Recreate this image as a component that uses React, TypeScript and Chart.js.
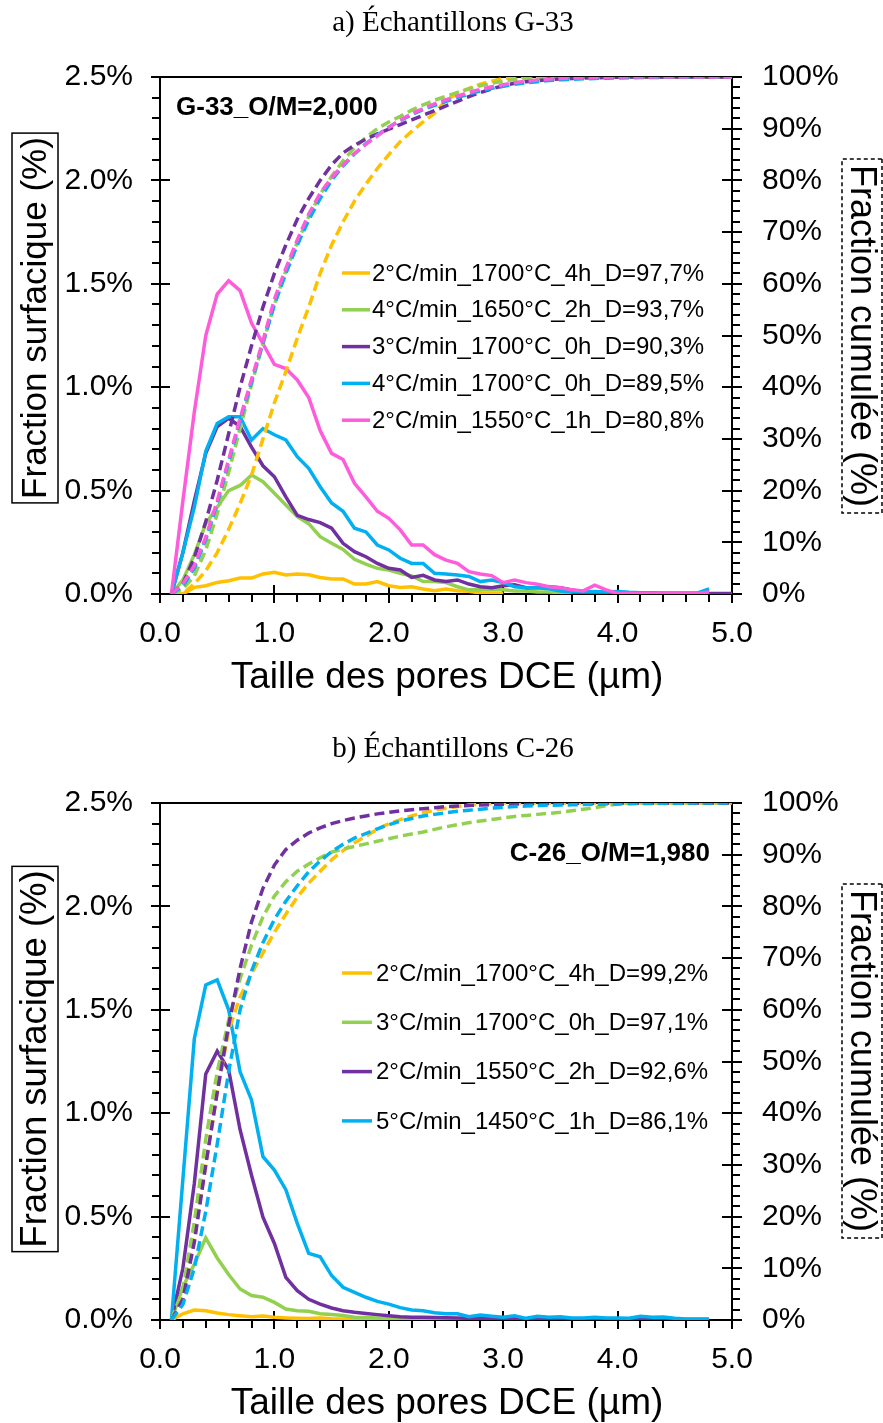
import React, { useEffect, useRef } from 'react';
import { Chart, registerables } from 'chart.js';

Chart.register(...registerables);

// ---------- DATA ----------
const poreSizes = [
  0.1, 0.2, 0.3, 0.4, 0.5, 0.6, 0.7, 0.8, 0.9, 1.0,
  1.1, 1.2, 1.3, 1.4, 1.5, 1.6, 1.7, 1.8, 1.9, 2.0,
  2.1, 2.2, 2.3, 2.4, 2.5, 2.6, 2.7, 2.8, 2.9, 3.0,
  3.1, 3.2, 3.3, 3.4, 3.5, 3.6, 3.7, 3.8, 3.9, 4.0,
  4.1, 4.2, 4.3, 4.4, 4.5, 4.6, 4.7, 4.8, 4.9, 5.0,
];

const xTicksLabels = ['0.0', '1.0', '2.0', '3.0', '4.0', '5.0'];

// Chart a) G-33 — fraction surfacique (%)
const aOrangeSurf = [0, 0, 0.032, 0.04, 0.056, 0.064, 0.077, 0.077, 0.097, 0.105, 0.092, 0.097, 0.093, 0.08, 0.073, 0.073, 0.048, 0.048, 0.06, 0.04, 0.032, 0.035, 0.024, 0.016, 0.024, 0.016, 0.013, 0.005, 0.004, 0.003, null, null, null, null, null, null, null, null, null, null, null, null, null, null, null, null, null, null, null, null];
const aGreenSurf = [0, 0.068, 0.19, 0.34, 0.42, 0.5, 0.525, 0.575, 0.543, 0.487, 0.43, 0.374, 0.34, 0.277, 0.245, 0.216, 0.168, 0.144, 0.124, 0.116, 0.1, 0.087, 0.06, 0.06, 0.055, 0.035, 0.02, 0.022, 0.02, 0.02, 0.015, 0.015, 0.01, 0.01, 0.005, 0.002, null, null, null, null, null, null, null, null, null, null, null, null, null, null];
const aPurpleSurf = [0, 0.2, 0.45, 0.68, 0.81, 0.85, 0.81, 0.71, 0.62, 0.567, 0.47, 0.38, 0.36, 0.345, 0.318, 0.245, 0.205, 0.18, 0.148, 0.124, 0.116, 0.08, 0.09, 0.068, 0.06, 0.068, 0.048, 0.035, 0.03, 0.04, 0.045, 0.03, 0.03, 0.035, 0.03, 0.02, 0.01, 0.008, 0.005, 0.005, 0.004, 0.004, 0.003, 0.003, 0.003, 0.003, 0.002, 0.002, 0.002, 0.002];
const aBlueSurf = [0, 0.2, 0.42, 0.69, 0.825, 0.857, 0.857, 0.745, 0.8, 0.77, 0.745, 0.664, 0.608, 0.519, 0.44, 0.4, 0.318, 0.3, 0.237, 0.213, 0.173, 0.148, 0.148, 0.1, 0.097, 0.092, 0.085, 0.06, 0.068, 0.055, 0.035, 0.03, 0.03, 0.025, 0.015, 0.01, 0.01, 0.012, 0.01, 0.012, 0.008, 0.006, 0.006, 0.005, 0.005, 0.005, 0.005, 0.025, null, null];
const aPinkSurf = [0, 0.45, 0.88, 1.25, 1.45, 1.515, 1.467, 1.31, 1.21, 1.11, 1.09, 1.035, 0.95, 0.79, 0.68, 0.65, 0.535, 0.47, 0.4, 0.366, 0.31, 0.237, 0.237, 0.19, 0.164, 0.148, 0.108, 0.097, 0.089, 0.055, 0.068, 0.055, 0.047, 0.035, 0.03, 0.02, 0.015, 0.043, 0.02, 0.003, 0.003, 0.003, 0.003, 0.003, 0.003, 0.005, 0.003, 0.01, null, null];

// Chart a) G-33 — fraction cumulée (%)
const aOrangeCum = [0, 0, 2, 4.5, 8, 12.5, 17.5, 23, 30, 37, 43, 49.5, 55.5, 62, 67.5, 72, 76, 79.3, 82.3, 85, 87.5, 89.5, 91.3, 93, 95.5, 96.8, 97.8, 98.6, 99.2, 99.7, 100, 100, 100, 100, 100, 100, 100, 100, 100, 100, 100, 100, 100, 100, 100, 100, 100, 100, 100, 100];
const aGreenCum = [0, 1, 3.5, 8.5, 15.5, 23.5, 32, 40.5, 48.5, 56, 62.5, 68, 73, 77.3, 80.8, 83.8, 86.3, 88.3, 90, 91.3, 92.4, 93.6, 94.6, 95.5, 96.3, 97, 97.7, 98.3, 98.8, 99.2, 99.5, 99.7, 99.8, 99.9, 100, 100, 100, 100, 100, 100, 100, 100, 100, 100, 100, 100, 100, 100, 100, 100];
const aPurpleCum = [0, 2, 7, 14, 22, 31, 40, 48, 55.5, 62, 67.5, 72.5, 76.5, 80, 83, 85.3, 86.8, 88, 89, 89.9, 90.8, 91.7, 92.6, 93.5, 94.4, 95.3, 96.2, 97, 97.7, 98.3, 98.8, 99.1, 99.3, 99.5, 99.6, 99.7, 99.8, 99.85, 99.9, 99.95, 100, 100, 100, 100, 100, 100, 100, 100, 100, 100];
const aBlueCum = [0, 1.5, 5, 10.5, 17.5, 25.5, 33.5, 41, 48.5, 56, 62, 67.5, 72.3, 76.5, 80, 82.8, 85.1, 87.1, 88.8, 90.3, 91.6, 92.7, 93.7, 94.5, 95.3, 96, 96.7, 97.3, 97.8, 98.2, 98.6, 98.9, 99.1, 99.3, 99.45, 99.55, 99.65, 99.72, 99.78, 99.82, 99.86, 99.89, 99.91, 99.93, 99.95, 99.96, 99.97, 100, 100, 100];
const aPinkCum = [0, 2, 5.5, 11, 18, 26, 34, 41.5, 49, 57, 63, 68.5, 73.5, 77.5, 80.5, 83, 85.2, 87, 88.6, 90.2, 91.7, 92.9, 93.9, 94.8, 95.6, 96.3, 97, 97.6, 98.1, 98.5, 98.9, 99.2, 99.4, 99.6, 99.7, 99.8, 99.85, 99.9, 99.95, 100, 100, 100, 100, 100, 100, 100, 100, 100, 100, 100];

// Chart b) C-26 — fraction surfacique (%)
const bOrangeSurf = [0, 0.03, 0.048, 0.045, 0.034, 0.026, 0.021, 0.016, 0.019, 0.013, 0.01, 0.008, 0.007, 0.01, 0.006, 0.005, 0.005, 0.004, 0.004, 0.004, 0.003, 0.003, 0.003, 0.003, 0.003, 0.002, 0.002, 0.002, 0.002, 0.002, null, null, null, null, null, null, null, null, null, null, null, null, null, null, null, null, null, null, null, null];
const bGreenSurf = [0, 0.16, 0.27, 0.397, 0.3, 0.22, 0.15, 0.118, 0.11, 0.085, 0.053, 0.045, 0.042, 0.03, 0.027, 0.022, 0.013, 0.012, 0.01, 0.01, 0.009, 0.008, 0.008, 0.007, 0.006, 0.006, 0.005, 0.005, 0.005, 0.004, 0.004, 0.003, 0.003, 0.003, 0.003, 0.003, 0.002, 0.01, 0.003, 0.002, null, null, null, null, null, null, null, null, null, null];
const bPurpleSurf = [0, 0.25, 0.66, 1.19, 1.3, 1.21, 0.92, 0.7, 0.497, 0.37, 0.206, 0.142, 0.1, 0.077, 0.058, 0.045, 0.037, 0.032, 0.026, 0.021, 0.016, 0.013, 0.013, 0.012, 0.011, 0.01, 0.008, 0.007, 0.006, 0.006, 0.01, 0.005, 0.004, 0.004, 0.003, 0.003, 0.003, 0.003, 0.002, 0.002, 0.002, 0.002, 0.002, 0.002, 0.002, 0.002, 0.002, 0.002, null, null];
const bBlueSurf = [0, 0.68, 1.36, 1.62, 1.645, 1.5, 1.2, 1.064, 0.79, 0.725, 0.63, 0.467, 0.322, 0.306, 0.215, 0.158, 0.134, 0.11, 0.09, 0.077, 0.06, 0.048, 0.045, 0.035, 0.03, 0.03, 0.016, 0.024, 0.018, 0.013, 0.02, 0.008, 0.018, 0.013, 0.016, 0.01, 0.01, 0.013, 0.01, 0.01, 0.008, 0.018, 0.013, 0.015, 0.008, 0.005, 0.005, 0.005, null, null];

// Chart b) C-26 — fraction cumulée (%)
const bOrangeCum = [0, 5, 16, 30, 44, 56, 62.5, 67, 71, 75, 78.5, 81.8, 84.5, 86.8, 89, 90.8, 92.3, 93.6, 94.9, 96, 96.8, 97.5, 98.1, 98.6, 99, 99.3, 99.6, 99.8, 99.9, 100, 100, 100, 100, 100, 100, 100, 100, 100, 100, 100, 100, 100, 100, 100, 100, 100, 100, 100, 100, 100];
const bGreenCum = [0, 6, 19, 35, 48, 58, 66, 72.5, 78, 82, 84.8, 86.8, 88.2, 89.4, 90.5, 91.1, 91.6, 92.1, 92.6, 93.1, 93.6, 94, 94.4, 94.9, 95.4, 95.8, 96.2, 96.5, 96.8, 97.1, 97.4, 97.6, 97.8, 98, 98.2, 98.5, 98.8, 99.1, 99.5, 99.8, 100, 100, 100, 100, 100, 100, 100, 100, 100, 100];
const bPurpleCum = [0, 4, 15, 30, 44, 57, 68, 77, 83.5, 88, 91, 92.8, 94.2, 95.2, 96, 96.6, 97.1, 97.5, 97.9, 98.2, 98.5, 98.7, 98.9, 99.1, 99.3, 99.4, 99.5, 99.6, 99.7, 99.75, 99.8, 99.83, 99.86, 99.88, 99.9, 99.92, 99.94, 99.96, 99.98, 100, 100, 100, 100, 100, 100, 100, 100, 100, 100, 100];
const bBlueCum = [0, 3, 10, 21, 34, 48, 60, 67.5, 73, 77.5, 81, 84, 86.7, 88.8, 90.6, 92, 93.2, 94.1, 95, 95.8, 96.5, 97, 97.5, 97.8, 98.1, 98.4, 98.6, 98.8, 99, 99.15, 99.3, 99.4, 99.5, 99.55, 99.6, 99.65, 99.7, 99.75, 99.8, 99.83, 99.86, 99.89, 99.92, 99.94, 99.96, 99.98, 99.99, 100, 100, 100];

const aLabels = [
  '2°C/min_1700°C_4h_D=97,7%',
  '4°C/min_1650°C_2h_D=93,7%',
  '3°C/min_1700°C_0h_D=90,3%',
  '4°C/min_1700°C_0h_D=89,5%',
  '2°C/min_1550°C_1h_D=80,8%',
];
const bLabels = [
  '2°C/min_1700°C_4h_D=99,2%',
  '3°C/min_1700°C_0h_D=97,1%',
  '2°C/min_1550°C_2h_D=92,6%',
  '5°C/min_1450°C_1h_D=86,1%',
];

const ORANGE = '#FFC000';
const GREEN = '#92D050';
const PURPLE = '#7030A0';
const BLUE = '#00B0F0';
const PINK = '#FF5CDC';

type Series = { label: string; color: string; surf: (number | null)[]; cum: (number | null)[] };

const seriesA: Series[] = [
  { label: aLabels[0], color: ORANGE, surf: aOrangeSurf, cum: aOrangeCum },
  { label: aLabels[1], color: GREEN, surf: aGreenSurf, cum: aGreenCum },
  { label: aLabels[2], color: PURPLE, surf: aPurpleSurf, cum: aPurpleCum },
  { label: aLabels[3], color: BLUE, surf: aBlueSurf, cum: aBlueCum },
  { label: aLabels[4], color: PINK, surf: aPinkSurf, cum: aPinkCum },
];
const seriesB: Series[] = [
  { label: bLabels[0], color: ORANGE, surf: bOrangeSurf, cum: bOrangeCum },
  { label: bLabels[1], color: GREEN, surf: bGreenSurf, cum: bGreenCum },
  { label: bLabels[2], color: PURPLE, surf: bPurpleSurf, cum: bPurpleCum },
  { label: bLabels[3], color: BLUE, surf: bBlueSurf, cum: bBlueCum },
];

// ---------- LAYOUT ----------
const W = 883;
const H = 697;
const SANS = '"Liberation Sans", Arial, sans-serif';
const SERIF = '"Liberation Serif", "Times New Roman", serif';

type PanelCfg = {
  key: string;
  title: string;
  series: Series[];
  note: string;
  noteX: number;
  noteY: number;
  noteAlign: CanvasTextAlign;
  legendY0: number;
  legendStep: number;
  legendLineX0: number;
  legendLineX1: number;
  legendTextX: number;
  leftTitleY: number;
  leftTitleSize: number;
  rightTitleY: number;
};

const panelA: PanelCfg = {
  key: 'a',
  title: 'a) Échantillons G-33',
  series: seriesA,
  note: 'G-33_O/M=2,000',
  noteX: 176,
  noteY: 108,
  noteAlign: 'left',
  legendY0: 273,
  legendStep: 36.8,
  legendLineX0: 342,
  legendLineX1: 370,
  legendTextX: 372,
  leftTitleY: 318,
  leftTitleSize: 35,
  rightTitleY: 336,
};
const panelB: PanelCfg = {
  key: 'b',
  title: 'b) Échantillons C-26',
  series: seriesB,
  note: 'C-26_O/M=1,980',
  noteX: 710,
  noteY: 128,
  noteAlign: 'right',
  legendY0: 247,
  legendStep: 49.3,
  legendLineX0: 342,
  legendLineX1: 372,
  legendTextX: 376,
  leftTitleY: 333,
  leftTitleSize: 36.5,
  rightTitleY: 335,
};

function makeDecor(p: PanelCfg) {
  return {
    id: 'decor_' + p.key,
    beforeDatasetsDraw(chart: any) {
      const { ctx, chartArea: ca, scales } = chart;
      const sx = scales.x, sy = scales.y, sy1 = scales.y1;
      ctx.save();
      ctx.strokeStyle = '#000';
      ctx.lineWidth = 2;
      ctx.strokeRect(ca.left, ca.top, ca.right - ca.left, ca.bottom - ca.top);
      ctx.beginPath();
      for (let i = 0; i <= 25; i++) {
        const px = Math.round(sx.getPixelForValue(i * 0.2));
        if (i % 5 === 0) { ctx.moveTo(px, ca.bottom - 9); ctx.lineTo(px, ca.bottom + 9); }
        else { ctx.moveTo(px, ca.bottom); ctx.lineTo(px, ca.bottom + 8); }
      }
      for (let i = 0; i <= 25; i++) {
        const py = Math.round(sy.getPixelForValue(i * 0.1));
        if (i % 5 === 0) { ctx.moveTo(ca.left - 9, py); ctx.lineTo(ca.left + 10, py); }
        else { ctx.moveTo(ca.left - 8, py); ctx.lineTo(ca.left, py); }
      }
      for (let i = 0; i <= 50; i++) {
        const py = Math.round(sy1.getPixelForValue(i * 2));
        if (i % 5 === 0) { ctx.moveTo(ca.right - 10, py); ctx.lineTo(ca.right + 10, py); }
        else { ctx.moveTo(ca.right, py); ctx.lineTo(ca.right + 8, py); }
      }
      ctx.stroke();
      ctx.restore();
    },
    afterDraw(chart: any) {
      const { ctx, chartArea: ca } = chart;
      ctx.save();
      ctx.fillStyle = '#000';
      // title
      ctx.font = `29px ${SERIF}`;
      ctx.textAlign = 'center';
      ctx.textBaseline = 'middle';
      ctx.fillText(p.title, 453, 23);
      // x title
      ctx.font = `37px ${SANS}`;
      ctx.fillText('Taille des pores DCE (µm)', (ca.left + ca.right) / 2 + 1, 678);
      // left title (boxed)
      ctx.save();
      ctx.translate(35, p.leftTitleY);
      ctx.rotate(-Math.PI / 2);
      ctx.font = `${p.leftTitleSize}px ${SANS}`;
      const lt = 'Fraction surfacique (%)';
      const lw = ctx.measureText(lt).width;
      ctx.fillText(lt, 0, 1);
      ctx.lineWidth = 1.5;
      ctx.strokeStyle = '#000';
      ctx.strokeRect(-lw / 2 - 4, -23, lw + 8, 46);
      ctx.restore();
      // right title (dashed box)
      ctx.save();
      ctx.translate(862, p.rightTitleY);
      ctx.rotate(Math.PI / 2);
      ctx.font = `36px ${SANS}`;
      const rt = 'Fraction cumulée (%)';
      const rw = ctx.measureText(rt).width;
      ctx.fillText(rt, 0, 1);
      ctx.lineWidth = 1.5;
      ctx.strokeStyle = '#000';
      ctx.setLineDash([4, 3]);
      ctx.strokeRect(-rw / 2 - 6, -20, rw + 12, 40);
      ctx.restore();
      // annotation
      ctx.font = `bold 26px ${SANS}`;
      ctx.textAlign = p.noteAlign;
      ctx.fillText(p.note, p.noteX, p.noteY);
      // legend
      ctx.font = `24px ${SANS}`;
      ctx.textAlign = 'left';
      p.series.forEach((s, i) => {
        const y = p.legendY0 + i * p.legendStep;
        ctx.strokeStyle = s.color;
        ctx.lineWidth = 3.5;
        ctx.beginPath();
        ctx.moveTo(p.legendLineX0, y);
        ctx.lineTo(p.legendLineX1, y);
        ctx.stroke();
        ctx.fillStyle = '#000';
        ctx.fillText(s.label, p.legendTextX, y + 1);
      });
      ctx.restore();
    },
  };
}

function buildDatasets(series: Series[]) {
  const n = series.length;
  const ds: any[] = [];
  series.forEach((s, i) => {
    ds.push({
      label: s.label + ' (cumul)',
      data: poreSizes.map((x, k) => ({ x, y: s.cum[k] })),
      yAxisID: 'y1',
      borderColor: s.color,
      backgroundColor: s.color,
      borderDash: [10, 5],
      borderWidth: 3.5,
      pointRadius: 0,
      tension: 0,
      fill: false,
      order: n - 1 - i,
    });
  });
  series.forEach((s, i) => {
    ds.push({
      label: s.label,
      data: poreSizes.map((x, k) => ({ x, y: s.surf[k] })),
      yAxisID: 'y',
      borderColor: s.color,
      backgroundColor: s.color,
      borderWidth: 3.5,
      pointRadius: 0,
      tension: 0,
      fill: false,
      order: 10 + n - 1 - i,
    });
  });
  return ds;
}

const tickFont = { family: SANS, size: 30 };

function Panel({ cfg, top }: { cfg: PanelCfg; top: number }) {
  const ref = useRef<HTMLCanvasElement | null>(null);
  useEffect(() => {
    if (!ref.current) return;
    const chart = new Chart(ref.current, {
      type: 'line',
      data: { datasets: buildDatasets(cfg.series) },
      options: {
        animation: false,
        responsive: false,
        devicePixelRatio: 1,
        layout: { padding: { top: 77, left: 0, right: 0, bottom: 0 } },
        plugins: { legend: { display: false }, tooltip: { enabled: false }, title: { display: false } },
        scales: {
          x: {
            type: 'linear',
            min: 0,
            max: 5,
            grid: { display: false, drawTicks: false },
            border: { display: false },
            ticks: {
              stepSize: 1,
              font: tickFont,
              color: '#000',
              padding: 22,
              maxRotation: 0,
              callback: (v: any) => xTicksLabels[Math.round(Number(v))] ?? '',
            },
            afterFit: (s: any) => { s.height = H - 594; },
          },
          y: {
            type: 'linear',
            position: 'left',
            min: 0,
            max: 2.5,
            grid: { display: false, drawTicks: false },
            border: { display: false },
            ticks: {
              stepSize: 0.5,
              font: tickFont,
              color: '#000',
              padding: 27,
              callback: (v: any) => Number(v).toFixed(1) + '%',
            },
            afterFit: (s: any) => { s.width = 160; },
          },
          y1: {
            type: 'linear',
            position: 'right',
            min: 0,
            max: 100,
            grid: { display: false, drawTicks: false },
            border: { display: false },
            ticks: {
              stepSize: 10,
              font: tickFont,
              color: '#000',
              padding: 30,
              callback: (v: any) => Math.round(Number(v)) + '%',
            },
            afterFit: (s: any) => { s.width = W - 732; },
          },
        },
      } as any,
      plugins: [makeDecor(cfg)],
    });
    return () => chart.destroy();
  }, [cfg]);
  return (
    <canvas
      ref={ref}
      width={W}
      height={H}
      style={{ position: 'absolute', left: 0, top, width: W, height: H }}
    />
  );
}

export default function App() {
  return (
    <div style={{ position: 'absolute', left: 0, top: 0, width: W, height: 1423, background: '#fff' }}>
      <Panel cfg={panelA} top={0} />
      <Panel cfg={panelB} top={726} />
    </div>
  );
}
